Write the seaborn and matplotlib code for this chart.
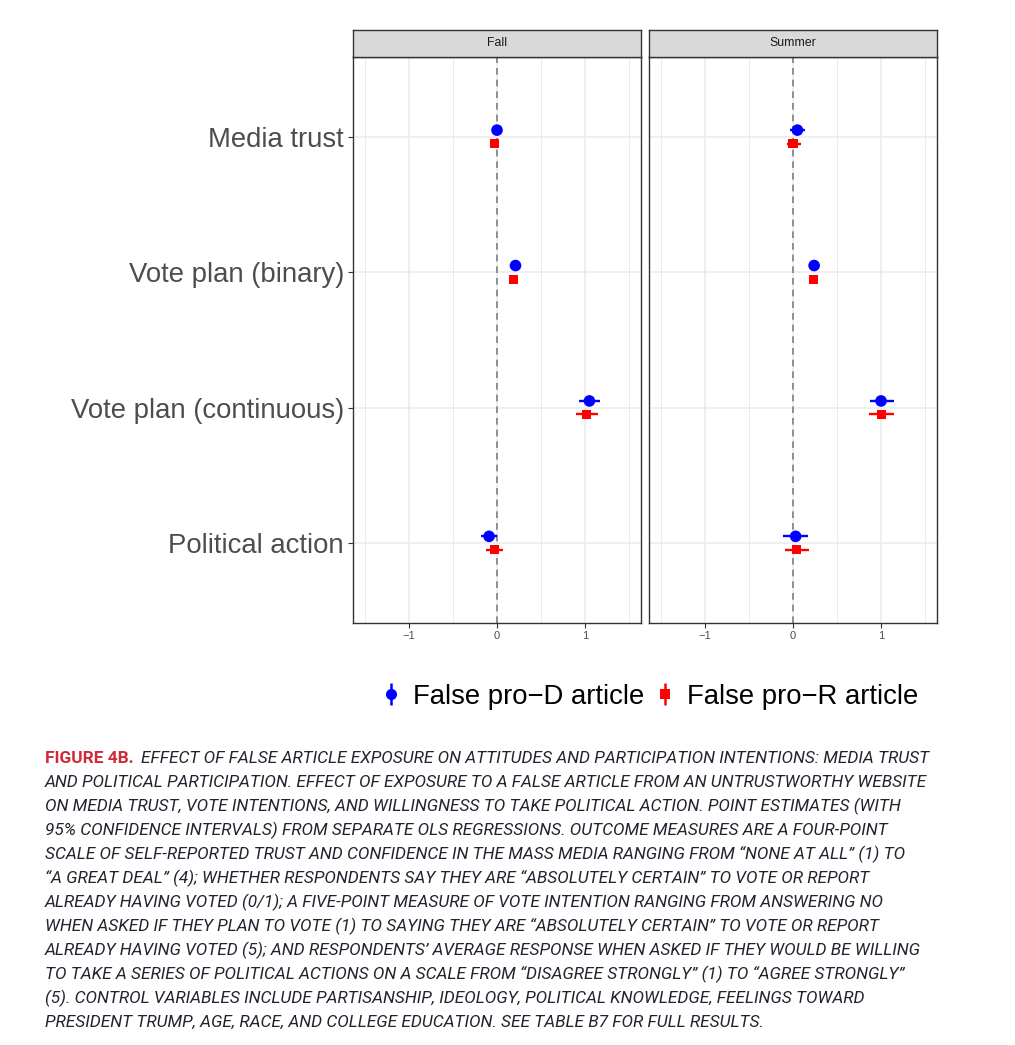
import numpy as np
import pandas as pd
import matplotlib
matplotlib.use("Agg")
import matplotlib.pyplot as plt
import seaborn as sns
from matplotlib.lines import Line2D
from matplotlib.legend_handler import HandlerTuple

# ---------------- data ----------------
outcomes = ["Media trust", "Vote plan (binary)", "Vote plan (continuous)", "Political action"]
waves = ["Fall", "Summer"]
articles = ["False pro\u2212D article", "False pro\u2212R article"]

fall_d_est = [0.00, 0.21, 1.05, -0.09]
fall_d_lo = [-0.04, 0.19, 0.93, -0.185]
fall_d_hi = [0.04, 0.23, 1.17, 0.00]
fall_r_est = [-0.03, 0.185, 1.02, -0.03]
fall_r_lo = [-0.085, 0.165, 0.90, -0.12]
fall_r_hi = [0.025, 0.205, 1.15, 0.065]

summer_d_est = [0.05, 0.24, 1.00, 0.03]
summer_d_lo = [-0.03, 0.22, 0.87, -0.11]
summer_d_hi = [0.14, 0.26, 1.15, 0.17]
summer_r_est = [0.00, 0.235, 1.00, 0.045]
summer_r_lo = [-0.07, 0.215, 0.86, -0.095]
summer_r_hi = [0.09, 0.255, 1.15, 0.185]

caption_lead = "FIGURE 4B."
caption_lines = [
    "EFFECT OF FALSE ARTICLE EXPOSURE ON ATTITUDES AND PARTICIPATION INTENTIONS: MEDIA TRUST",
    "AND POLITICAL PARTICIPATION. EFFECT OF EXPOSURE TO A FALSE ARTICLE FROM AN UNTRUSTWORTHY WEBSITE",
    "ON MEDIA TRUST, VOTE INTENTIONS, AND WILLINGNESS TO TAKE POLITICAL ACTION. POINT ESTIMATES (WITH",
    "95% CONFIDENCE INTERVALS) FROM SEPARATE OLS REGRESSIONS. OUTCOME MEASURES ARE A FOUR-POINT",
    "SCALE OF SELF-REPORTED TRUST AND CONFIDENCE IN THE MASS MEDIA RANGING FROM \u201cNONE AT ALL\u201d (1) TO",
    "\u201cA GREAT DEAL\u201d (4); WHETHER RESPONDENTS SAY THEY ARE \u201cABSOLUTELY CERTAIN\u201d TO VOTE OR REPORT",
    "ALREADY HAVING VOTED (0/1); A FIVE-POINT MEASURE OF VOTE INTENTION RANGING FROM ANSWERING NO",
    "WHEN ASKED IF THEY PLAN TO VOTE (1) TO SAYING THEY ARE \u201cABSOLUTELY CERTAIN\u201d TO VOTE OR REPORT",
    "ALREADY HAVING VOTED (5); AND RESPONDENTS\u2019 AVERAGE RESPONSE WHEN ASKED IF THEY WOULD BE WILLING",
    "TO TAKE A SERIES OF POLITICAL ACTIONS ON A SCALE FROM \u201cDISAGREE STRONGLY\u201d (1) TO \u201cAGREE STRONGLY\u201d",
    "(5). CONTROL VARIABLES INCLUDE PARTISANSHIP, IDEOLOGY, POLITICAL KNOWLEDGE, FEELINGS TOWARD",
    "PRESIDENT TRUMP, AGE, RACE, AND COLLEGE EDUCATION. SEE TABLE B7 FOR FULL RESULTS.",
]

# ---------------- table ----------------
series = {
    ("Fall", articles[0]): (fall_d_est, fall_d_lo, fall_d_hi),
    ("Fall", articles[1]): (fall_r_est, fall_r_lo, fall_r_hi),
    ("Summer", articles[0]): (summer_d_est, summer_d_lo, summer_d_hi),
    ("Summer", articles[1]): (summer_r_est, summer_r_lo, summer_r_hi),
}
rows = []
for (wave, art), (est, lo, hi) in series.items():
    for i, o in enumerate(outcomes):
        rows.append(dict(wave=wave, article=art, outcome=o, idx=i,
                         est=est[i], lo=lo[i], hi=hi[i]))
df = pd.DataFrame(rows)
dodge = {articles[0]: -0.05, articles[1]: 0.05}
df["ypos"] = df["idx"] + df["article"].map(dodge)

palette = {articles[0]: "#0000FF", articles[1]: "#FF0000"}
markers = {articles[0]: "o", articles[1]: "s"}
sizes = {articles[0]: 70, articles[1]: 42}

# ---------------- style ----------------
sns.set_theme(style="white")
plt.rcParams["font.family"] = ["Liberation Sans", "DejaVu Sans"]
plt.rcParams["axes.unicode_minus"] = True

W, H = 1015, 1045
fig = plt.figure(figsize=(W / 100, H / 100), dpi=100)
fig.patch.set_facecolor("white")

panel_left = {"Fall": 353, "Summer": 649}
panel_w = 288
panel_top, panel_bot = 57, 623
strip_top = 30
edge = "#333333"

for wave in waves:
    x0 = panel_left[wave]
    ax = fig.add_axes([x0 / W, 1 - panel_bot / H, panel_w / W, (panel_bot - panel_top) / H])
    sub = df[df["wave"] == wave]

    ax.set_xlim(-1.636, 1.636)
    ax.set_ylim(3.59, -0.59)
    ax.set_xticks([-1, 0, 1])
    ax.set_xticks([-1.5, -0.5, 0.5, 1.5], minor=True)
    ax.set_yticks(range(len(outcomes)))
    ax.grid(which="major", color="#EBEBEB", lw=1.1, zorder=0)
    ax.grid(which="minor", axis="x", color="#EBEBEB", lw=0.7, zorder=0)
    ax.set_axisbelow(True)

    ax.axvline(0, color="#7F7F7F", lw=1.2, ls=(0, (4, 3)), zorder=1)

    for art in articles:
        s = sub[sub["article"] == art]
        ax.hlines(s["ypos"], s["lo"], s["hi"], colors=palette[art], lw=1.7, zorder=2)

    sns.scatterplot(data=sub, x="est", y="ypos", hue="article", style="article",
                    size="article", palette=palette, markers=markers, sizes=sizes,
                    linewidth=0, legend=False, ax=ax, zorder=3)
    ax.set_xlim(-1.636, 1.636)
    ax.set_ylim(3.59, -0.59)
    ax.set_xlabel("")
    ax.set_ylabel("")

    ax.set_xticklabels(["\u22121", "0", "1"])
    ax.tick_params(axis="x", which="major", length=3.5, width=0.8, color=edge,
                   labelsize=8, labelcolor="#4D4D4D", pad=2, bottom=True)
    ax.tick_params(axis="x", which="minor", length=0)
    if wave == "Fall":
        ax.set_yticklabels(outcomes)
        ax.tick_params(axis="y", length=3.5, width=0.8, color=edge,
                       labelsize=19.8, labelcolor="#4D4D4D", pad=3, left=True)
    else:
        ax.set_yticklabels([])
        ax.tick_params(axis="y", length=0)
    for sp in ax.spines.values():
        sp.set_color(edge)
        sp.set_linewidth(1.0)
        sp.set_visible(True)

    sax = fig.add_axes([x0 / W, 1 - panel_top / H, panel_w / W, (panel_top - strip_top) / H])
    sax.set_facecolor("#D9D9D9")
    sax.set_xticks([])
    sax.set_yticks([])
    for sp in sax.spines.values():
        sp.set_color(edge)
        sp.set_linewidth(1.0)
        sp.set_visible(True)
    sax.text(0.5, 0.5, wave, ha="center", va="center", fontsize=8.8, color="#1A1A1A",
             transform=sax.transAxes)

# ---------------- legend ----------------
handles = []
for art in articles:
    vl = Line2D([], [], marker="|", markersize=16, markeredgewidth=1.8,
                color=palette[art], linestyle="none")
    mk = Line2D([], [], marker=markers[art], markersize=8 if art == articles[0] else 6.5,
                color=palette[art], markeredgewidth=0, linestyle="none")
    handles.append((vl, mk))
fig.legend(handles=handles, labels=articles, handler_map={tuple: HandlerTuple(ndivide=1)},
           loc="center", bbox_to_anchor=(650.5 / W, 1 - 697 / H), ncol=2, frameon=False,
           fontsize=19.8, handlelength=0.6, handletextpad=0.5, columnspacing=0.48,
           labelcolor="black")

# ---------------- caption ----------------
cap_font = ["Roboto", "DejaVu Sans"]
cap_size = 12.4
cap_color = "#23232F"
base0 = 762.7
step = 24.0
lead = fig.text(45 / W, 1 - base0 / H, caption_lead, color="#CE2B37", fontweight="bold",
                family=cap_font, fontsize=cap_size, va="baseline", ha="left")
fig.canvas.draw()
bb = lead.get_window_extent(renderer=fig.canvas.get_renderer())
for k, line in enumerate(caption_lines):
    x = (bb.x1 + 7) / W if k == 0 else 45 / W
    fig.text(x, 1 - (base0 + k * step) / H, line, color=cap_color, style="italic",
             family=cap_font, fontsize=cap_size, va="baseline", ha="left")

fig.savefig("out.png", dpi=100, facecolor="white")
